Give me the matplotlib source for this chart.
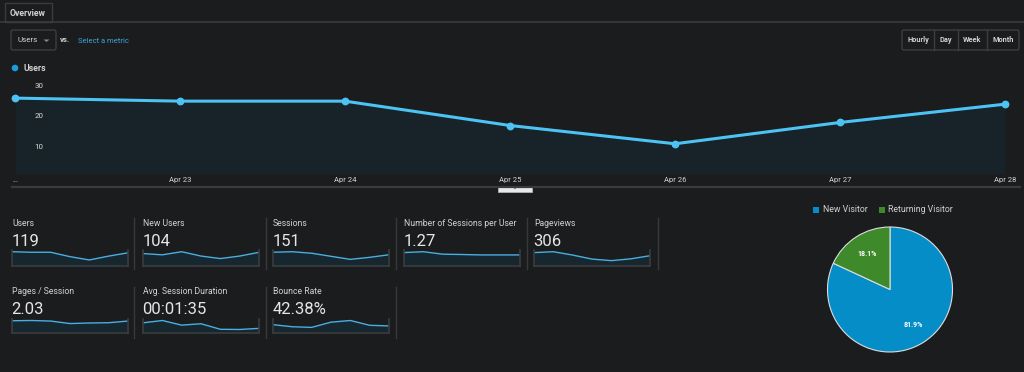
import matplotlib
matplotlib.use("Agg")
import matplotlib.pyplot as plt
from matplotlib.patches import Rectangle, FancyBboxPatch, Circle
from matplotlib.lines import Line2D

plt.rcParams['font.family'] = ['Roboto', 'DejaVu Sans']

# ---------------- data ----------------
dates = ["Apr 22", "Apr 23", "Apr 24", "Apr 25", "Apr 26", "Apr 27", "Apr 28"]
tick_labels = ["...", "Apr 23", "Apr 24", "Apr 25", "Apr 26", "Apr 27", "Apr 28"]
users_daily = [26, 25, 25, 17, 11, 18, 24]
y_ticks = [10, 20, 30]

metric_names = ["Users", "New Users", "Sessions", "Number of Sessions per User", "Pageviews",
                "Pages / Session", "Avg. Session Duration", "Bounce Rate"]
metric_values = ["119", "104", "151", "1.27", "306", "2.03", "00:01:35", "42.38%"]
spark_users = [26, 25, 25, 17, 11, 18, 24]
spark_new_users = [20, 18, 23, 16, 12, 16, 22]
spark_sessions = [27, 28, 25, 19, 13, 17, 22]
spark_sess_per_user = [1.25, 1.33, 1.10, 1.07, 1.03, 1.03, 1.03]
spark_pageviews = [60, 64, 49, 31, 24, 32, 46]
spark_pages_session = [2.20, 2.25, 2.15, 1.70, 1.80, 1.85, 2.15]
spark_duration = [110, 135, 85, 100, 40, 38, 50]
spark_bounce = [40, 30, 27, 52, 60, 37, 34]

pie_labels = ["New Visitor", "Returning Visitor"]
pie_values = [81.9, 18.1]
pie_colors = ["#058dc7", "#3e8a2a"]

# ---------------- style ----------------
BG = "#1b1c1e"
FILL = "#172229"
LINE = "#4cc3f2"
TXT = "#d2d2d2"
GRID = "#38393b"

W, H = 1024, 372
fig = plt.figure(figsize=(W / 100, H / 100), dpi=100)
fig.patch.set_facecolor(BG)


def px_axes(x0, y0, x1, y1, **kw):
    return fig.add_axes([x0 / W, 1 - y1 / H, (x1 - x0) / W, (y1 - y0) / H], **kw)


# overlay axis in pixel coordinates for UI elements
ui = fig.add_axes([0, 0, 1, 1])
ui.set_xlim(0, W)
ui.set_ylim(H, 0)
ui.axis("off")
ui.patch.set_alpha(0)

# tab & header line
ui.add_line(Line2D([0, W], [22, 22], color="#3a3b3d", lw=1.2))
ui.add_patch(Rectangle((5, 3), 47, 19, fc=BG, ec="#3a3b3d", lw=1))
ui.text(10, 13, "Overview", color=TXT, fontsize=6.3, fontweight="bold", va="center")

# dropdown
ui.add_patch(FancyBboxPatch((11, 30), 45, 20, boxstyle="round,pad=0,rounding_size=2",
                            fc=BG, ec="#3d3e40", lw=1))
ui.text(18, 40.5, "Users", color=TXT, fontsize=5.8, va="center")
ui.add_patch(plt.Polygon([[43.5, 39.5], [49.5, 39.5], [46.5, 42]], closed=True, fc="#888", ec="none"))
ui.text(60, 40, "vs.", color=TXT, fontsize=5.5, fontweight="bold", va="center")
ui.text(78, 41, "Select a metric", color="#3fa4e0", fontsize=5.5, va="center")

# time buttons
ui.add_patch(FancyBboxPatch((902, 30), 117, 20, boxstyle="round,pad=0,rounding_size=2",
                            fc=BG, ec="#3d3e40", lw=1))
for xd in [934, 958, 987]:
    ui.add_line(Line2D([xd, xd], [30, 50], color="#3d3e40", lw=1))
for label, xc in [("Hourly", 918), ("Day", 946), ("Week", 972.5), ("Month", 1003)]:
    ui.text(xc, 40.5, label, color=TXT, fontsize=5.3, fontweight="bold", ha="center", va="center")

# legend of the main chart
ui.add_patch(Circle((15, 68), 3.3, fc="#1b9ddb", ec="none"))
ui.text(24, 68.5, "Users", color=TXT, fontsize=6.3, fontweight="bold", va="center")

# divider & handle
ui.add_line(Line2D([12, 1020], [186.5, 186.5], color="#3a3b3d", lw=1.6))
ui.add_patch(Rectangle((498, 186.5), 34, 5, fc="#e8e8e8", ec="#bbbbbb", lw=0.5))
ui.add_patch(plt.Polygon([[513, 187.5], [517, 187.5], [515, 189.5]], closed=True, fc="#888", ec="none"))

# ---------------- main chart ----------------
ax = px_axes(15, 78, 1005, 172.7)
ax.set_facecolor(BG)
xs = list(range(len(dates)))
ax.fill_between(xs, users_daily, 0, color=FILL, lw=0)
ax.plot(xs, users_daily, color=LINE, lw=2.2, marker="o", ms=4.6, mec=LINE, mfc=LINE, clip_on=False, zorder=3)
ax.set_xlim(0, len(dates) - 1)
ax.set_ylim(1.5, 32.6)
ax.axis("off")
for v in y_ticks:
    ax.text(0.02, v, str(v), color="#dcdcdc", fontsize=5.7, va="center", ha="left",
            transform=ax.get_yaxis_transform())
for i, lab in enumerate(tick_labels):
    ax.annotate(lab, xy=(i, 0), xycoords=("data", "axes fraction"), xytext=(0, -7.5),
                textcoords="offset pixels", color=TXT, fontsize=5.5, ha="center", va="center",
                annotation_clip=False)

# ---------------- metric grid ----------------
sparks = [spark_users, spark_new_users, spark_sessions, spark_sess_per_user, spark_pageviews,
          spark_pages_session, spark_duration, spark_bounce]
col_x = [12, 143, 273, 404, 534]
row_y = [(224, 241, 250, 266), (292, 310, 319, 333)]
seps_row1 = [134, 266, 396, 527, 658]
seps_row2 = [134, 266, 396]
for xs_ in seps_row1:
    ui.add_line(Line2D([xs_, xs_], [218, 269], color=GRID, lw=1))
for xs_ in seps_row2:
    ui.add_line(Line2D([xs_, xs_], [287, 338], color=GRID, lw=1))

for k, (name, val, sp) in enumerate(zip(metric_names, metric_values, sparks)):
    r = 0 if k < 5 else 1
    c = k if k < 5 else k - 5
    x0 = col_x[c]
    ly, vy, by0, by1 = row_y[r]
    ui.text(x0, ly, name, color=TXT, fontsize=6.2, va="center")
    ui.text(x0 - 0.5, vy, val, color="#e6e6e6", fontsize=12, va="center")
    sax = px_axes(x0, by0, x0 + 116, by1)
    sax.set_facecolor(BG)
    sxs = list(range(len(sp)))
    sax.fill_between(sxs, sp, 0, color="#172730", lw=0)
    sax.plot(sxs, sp, color="#4aaee0", lw=1.0)
    sax.set_xlim(0, len(sp) - 1)
    sax.set_ylim(0, max(sp) * 1.12)
    sax.set_xticks([])
    sax.set_yticks([])
    for s in sax.spines.values():
        s.set_color("#3b3c3e")
        s.set_linewidth(1.2)
    sax.spines["top"].set_visible(False)

# ---------------- pie ----------------
pax = px_axes(890 - 70, 289.5 - 70, 890 + 70, 289.5 + 70)
pax.set_facecolor(BG)
wedges, _, autotexts = pax.pie(pie_values, colors=pie_colors, startangle=90, counterclock=False,
                               radius=62.5 / 70, autopct="%.1f%%", pctdistance=0.68,
                               wedgeprops=dict(edgecolor="#dddddd", linewidth=0.8),
                               textprops=dict(color="white", fontsize=5, fontweight="bold"))
pax.set_xlim(-1, 1)
pax.set_ylim(-1, 1)
pax.set_aspect("equal")
pax.axis("off")

# pie legend
ui.add_patch(Rectangle((813, 206.5), 6, 6, fc=pie_colors[0], ec="none"))
ui.text(823, 210, pie_labels[0], color=TXT, fontsize=6.3, va="center")
ui.add_patch(Rectangle((878.5, 206.5), 6, 6, fc=pie_colors[1], ec="none"))
ui.text(888, 210, pie_labels[1], color=TXT, fontsize=6.3, va="center")

ui.set_zorder(5)
fig.savefig("out.png", dpi=100, facecolor=BG)
